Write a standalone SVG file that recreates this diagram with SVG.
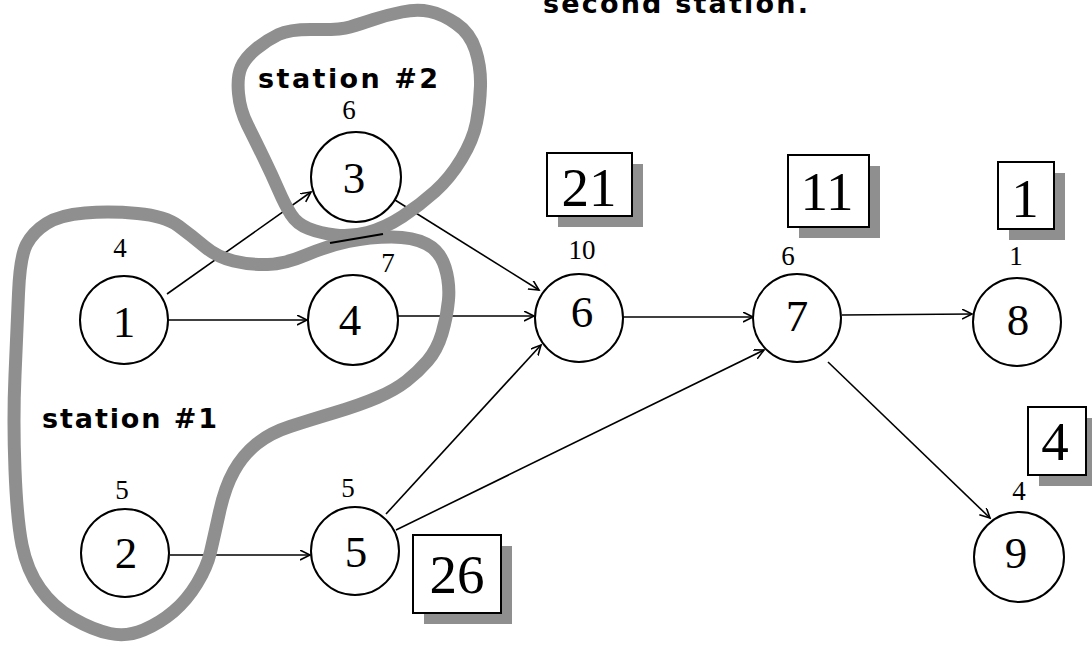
<svg xmlns="http://www.w3.org/2000/svg" width="1092" height="652" viewBox="0 0 1092 652">
<style>
.node circle{fill:#fff;stroke:#000;stroke-width:2}
.num{font-family:"Liberation Serif",serif;font-size:45px;text-anchor:middle;fill:#000}
.wt{font-family:"Liberation Serif",serif;font-size:27px;text-anchor:middle;fill:#000}
.box rect.b{fill:#fff;stroke:#000;stroke-width:2}
.box rect.s{fill:#8f8f8f}
.bt{font-family:"Liberation Serif",serif;font-size:55px;text-anchor:middle;fill:#000}
.lbl{font-family:"DejaVu Sans",sans-serif;font-weight:bold;font-size:27px;fill:#000}
.edge{stroke:#000;stroke-width:1.6;fill:none;marker-end:url(#arr)}
.band{fill:none;stroke:#8f8f8f;stroke-width:13;stroke-linejoin:round}
</style>
<defs>
<marker id="arr" markerUnits="userSpaceOnUse" markerWidth="12" markerHeight="12" refX="10" refY="5" orient="auto">
<path d="M0,0 L10,5 L0,10" fill="none" stroke="#000" stroke-width="1.6"/>
</marker>
</defs>
<rect width="1092" height="652" fill="#fff"/>
<text class="lbl" x="543" y="13" textLength="265" lengthAdjust="spacing">second station.</text>
<g id="connectors">
<line class="edge" x1="167" y1="294" x2="311" y2="192"/>
<line class="edge" x1="168" y1="320" x2="307" y2="320"/>
<line class="edge" x1="395" y1="200" x2="539" y2="290"/>
<line class="edge" x1="398" y1="316" x2="534" y2="316"/>
<line class="edge" x1="386" y1="514" x2="541" y2="345"/>
<line class="edge" x1="396" y1="530" x2="764" y2="350"/>
<line class="edge" x1="623" y1="317" x2="753" y2="317"/>
<line class="edge" x1="842" y1="315" x2="972" y2="314"/>
<line class="edge" x1="828" y1="362" x2="990" y2="518"/>
<line class="edge" x1="170" y1="555" x2="310" y2="555"/>
</g>
<g id="station2">
<path class="band" d="M238.5,93.5 Q237,77 241,67.5 Q245,58 256,49 Q267,40 278.5,34.5 Q290,29 315,29.5 Q340,30 350,27 Q360,24 373.5,19.5 Q387,15 402,12 Q417,9 429.5,11.5 Q442,14 456,23.5 Q470,33 475.5,50 Q481,67 480.5,86 Q480,105 476.5,122.5 Q473,140 461.5,159 Q450,178 435,191.5 Q420,205 402.5,216.5 Q385,228 367.5,232.5 Q350,237 335,235 Q320,233 308.5,228.5 Q297,224 291,214.5 Q285,205 278.5,190 Q272,175 263.5,157.5 Q255,140 247.5,125 Q240,110 238.5,93.5 Z"/>
<text class="lbl" x="258" y="88" textLength="180" lengthAdjust="spacing">station #2</text>
</g>
<g id="station1">
<path class="band" d="M46.5,223.5 Q60,215 85,213 Q110,211 137.5,213.5 Q165,216 178.5,226 Q192,236 204.5,246.5 Q217,257 233.5,261 Q250,265 267.5,264.5 Q285,264 306,255 Q327,246 348.5,241.5 Q370,237 391.5,237 Q413,237 426.5,244 Q440,251 445,267 Q450,283 448.5,300 Q447,317 442,333.5 Q437,350 427.5,361 Q418,372 406.5,381 Q395,390 377.5,397.5 Q360,405 335,412.5 Q310,420 290,426.5 Q270,433 256.5,444 Q243,455 234,471 Q225,487 219.5,512 Q214,537 210.5,552 Q207,567 197,583.5 Q187,600 173.5,611.5 Q160,623 143.5,630 Q127,637 110,633.5 Q93,630 73,618.5 Q53,607 40,588.5 Q27,570 22,545 Q17,520 15,470 Q13,420 15,375 Q17,330 18.5,293.5 Q20,257 26.5,244.5 Q33,232 46.5,223.5 Z"/>
<line x1="330" y1="243" x2="383" y2="234" stroke="#000" stroke-width="2"/>
<text class="lbl" x="42" y="428" textLength="175" lengthAdjust="spacing">station #1</text>
</g>
<g id="node1" class="node"><circle cx="124" cy="320" r="44"/><text class="num" x="124" y="337">1</text><text class="wt" x="120" y="257">4</text></g>
<g id="node2" class="node"><circle cx="125" cy="553" r="44"/><text class="num" x="126" y="568">2</text><text class="wt" x="122" y="499">5</text></g>
<g id="node3" class="node"><circle cx="356" cy="177" r="45"/><text class="num" x="354" y="193">3</text><text class="wt" x="349" y="119">6</text></g>
<g id="node4" class="node"><circle cx="353" cy="320" r="45"/><text class="num" x="350" y="335">4</text><text class="wt" x="388" y="272">7</text></g>
<g id="node5" class="node"><circle cx="355" cy="551" r="44"/><text class="num" x="356" y="567">5</text><text class="wt" x="348" y="497">5</text></g>
<g id="node6" class="node"><circle cx="579" cy="318" r="44"/><text class="num" x="582" y="327">6</text><text class="wt" x="582" y="259">10</text></g>
<g id="node7" class="node"><circle cx="797" cy="318" r="44"/><text class="num" x="797" y="331">7</text><text class="wt" x="788" y="265">6</text></g>
<g id="node8" class="node"><circle cx="1017" cy="322" r="44"/><text class="num" x="1018" y="335">8</text><text class="wt" x="1016" y="265">1</text></g>
<g id="node9" class="node"><circle cx="1019" cy="557" r="45"/><text class="num" x="1016" y="568">9</text><text class="wt" x="1019" y="500">4</text></g>
<g id="box21" class="box"><rect class="s" x="558" y="164" width="85" height="63"/><rect class="b" x="547" y="153" width="85" height="63"/><text class="bt" x="589" y="206">21</text></g>
<g id="box11" class="box"><rect class="s" x="799" y="166" width="81" height="72"/><rect class="b" x="788" y="155" width="81" height="72"/><text class="bt" x="827" y="210">11</text></g>
<g id="box1" class="box"><rect class="s" x="1009" y="173" width="56" height="67"/><rect class="b" x="998" y="162" width="56" height="67"/><text class="bt" x="1025" y="217">1</text></g>
<g id="box4" class="box"><rect class="s" x="1039" y="418" width="58" height="68"/><rect class="b" x="1028" y="407" width="58" height="68"/><text class="bt" x="1055" y="460">4</text></g>
<g id="box26" class="box"><rect class="s" x="424" y="546" width="88" height="78"/><rect class="b" x="413" y="535" width="88" height="78"/><text class="bt" x="457" y="593">26</text></g>
</svg>
